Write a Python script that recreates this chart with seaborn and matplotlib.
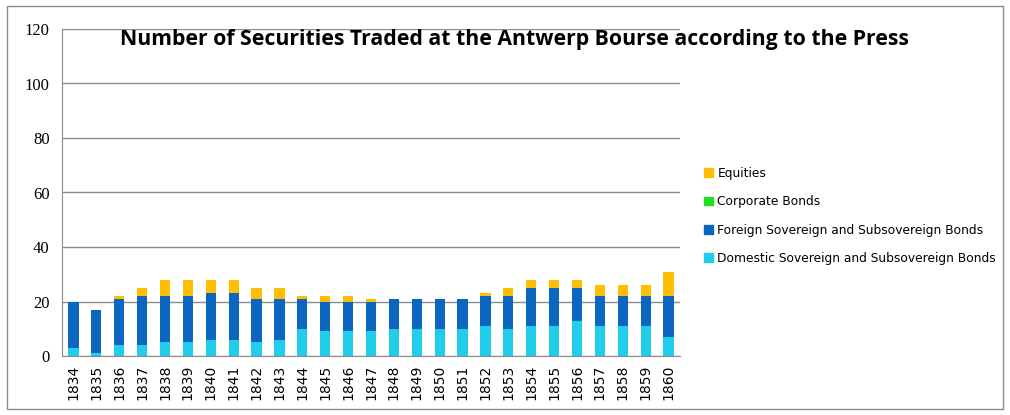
import matplotlib
matplotlib.use("Agg")
import matplotlib.pyplot as plt
import matplotlib.patches as mpatches
import numpy as np
import seaborn as sns

years = [str(y) for y in range(1834, 1861)]
domestic = [3, 1, 4, 4, 5, 5, 6, 6, 5, 6, 10, 9, 9, 9, 10, 10, 10, 10, 11, 10, 11, 11, 13, 11, 11, 11, 7]
foreign = [17, 16, 17, 18, 17, 17, 17, 17, 16, 15, 11, 11, 11, 11, 11, 11, 11, 11, 11, 12, 14, 14, 12, 11, 11, 11, 15]
corporate = [0] * 27
equities = [0, 0, 1, 3, 6, 6, 5, 5, 4, 4, 1, 2, 2, 1, 0, 0, 0, 0, 1, 3, 3, 3, 3, 4, 4, 4, 9]

series = [
    ("Domestic Sovereign and Subsovereign Bonds", domestic, "#20CDEA"),
    ("Foreign Sovereign and Subsovereign Bonds", foreign, "#0A66BE"),
    ("Corporate Bonds", corporate, "#22DD22"),
    ("Equities", equities, "#FFBF00"),
]

sns.set_style("white")
plt.rcParams["font.family"] = ["DejaVu Sans"]
plt.rcParams["text.color"] = "black"

fig = plt.figure(figsize=(10.1, 4.15), dpi=100)
ax = fig.add_axes([62 / 1010, 1 - 356 / 415, (680 - 62) / 1010, (356 - 29) / 415])

bottom = np.zeros(len(years))
for name, vals, col in series:
    sns.barplot(x=years, y=vals, bottom=bottom, color=col, width=0.45,
                ax=ax, saturation=1, linewidth=0)
    bottom = bottom + np.array(vals)

ax.set_ylim(0, 120)
ax.set_xlim(-0.5, len(years) - 0.5)
ax.set_yticks(range(0, 121, 20))
ax.yaxis.grid(True, color="#8c8c8c", linewidth=1)
ax.set_axisbelow(True)
for s in ["top", "right"]:
    ax.spines[s].set_visible(False)
for s in ["left", "bottom"]:
    ax.spines[s].set_color("#8c8c8c")
ax.tick_params(axis="y", length=4, color="#8c8c8c", labelsize=12, pad=5,
               labelcolor="black")
for lab in ax.get_yticklabels():
    lab.set_fontfamily("Liberation Serif")
ax.tick_params(axis="x", length=0, labelsize=10, rotation=90, pad=6,
               labelcolor="black")
ax.set_xticks(np.arange(-0.5, len(years), 1), minor=True)
ax.tick_params(axis="x", which="minor", length=4, color="#8c8c8c")

fig.text(514 / 1010, 1 - 40 / 415,
         "Number of Securities Traded at the Antwerp Bourse according to the Press",
         fontsize=15.3, fontweight="bold", family="Open Sans", color="black",
         ha="center", va="center")

handles = [mpatches.Patch(color=col, label=name) for name, _, col in series[::-1]]
leg = fig.legend(handles=handles, loc="upper left",
                 bbox_to_anchor=(693 / 1010, 1 - 156 / 415),
                 frameon=False, fontsize=8.8, handlelength=0.7, handleheight=0.7,
                 handletextpad=0.4, labelspacing=1.25)
for t in leg.get_texts():
    t.set_color("black")

fig.patches.append(mpatches.Rectangle((7 / 1010, 6 / 415), 996 / 1010, 403 / 415,
                                      transform=fig.transFigure, fill=False,
                                      edgecolor="#8c8c8c", linewidth=1))

fig.savefig("out.png", dpi=100)
